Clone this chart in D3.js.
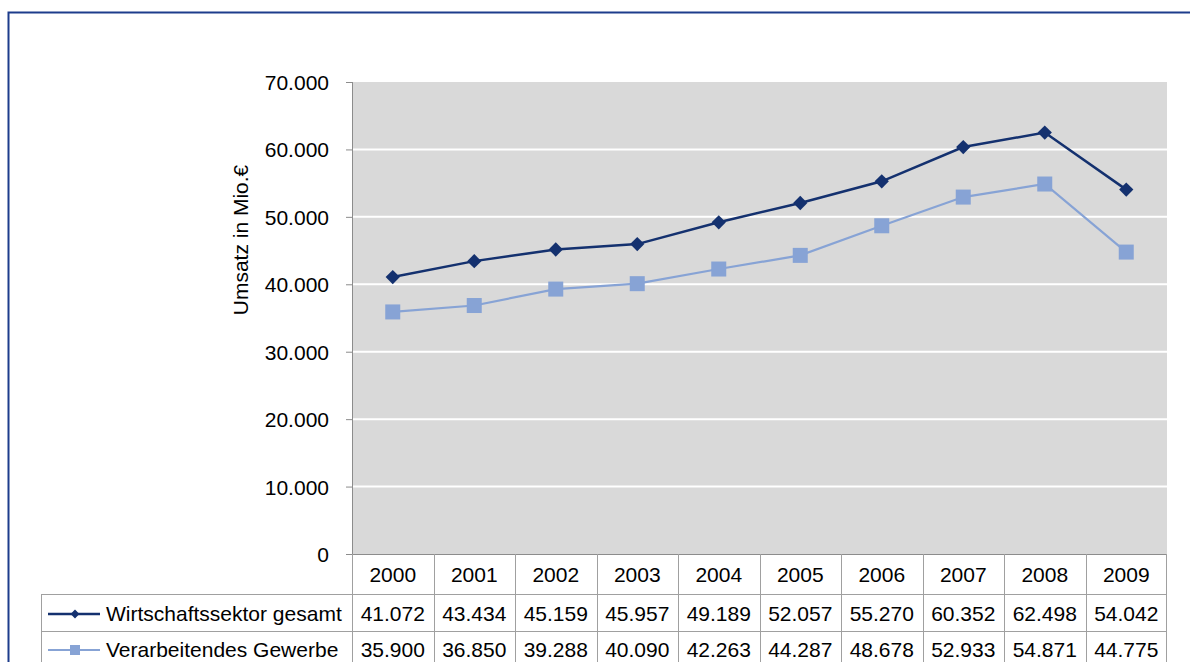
<!DOCTYPE html>
<meta charset="utf-8">
<script src="https://d3js.org/d3.v7.min.js"></script>
<style>
  body { margin: 0; background: #fff; }
  text { font-family: "Liberation Sans", Arial, sans-serif; fill: #000; }
</style>
<div id="chart"></div>
<script>

// data
var years = ["2000", "2001", "2002", "2003", "2004", "2005", "2006", "2007", "2008", "2009"];
var gesamt = [41072, 43434, 45159, 45957, 49189, 52057, 55270, 60352, 62498, 54042];
var gewerbe = [35900, 36850, 39288, 40090, 42263, 44287, 48678, 52933, 54871, 44775];
var seriesNames = ["Wirtschaftssektor gesamt", "Verarbeitendes Gewerbe"];
var yTicks = [0, 10000, 20000, 30000, 40000, 50000, 60000, 70000];

var W = 1190, H = 662;
var plot = {left: 352, right: 1167, top: 82, bottom: 554};
var colors = ["#14316f", "#87a3d5"];
var fs = "21px";

var de = d3.formatLocale({decimal: ",", thousands: ".", grouping: [3], currency: ["", "€"]});
var fmt = de.format(",d");
var fmtVal = function(v) { return d3.format(".3f")(v / 1000); };

var svg = d3.select("#chart").append("svg")
    .attr("width", W)
    .attr("height", H);

// frame
svg.append("path")
    .attr("d", "M8.5," + H + "V12.5H" + W)
    .attr("fill", "none")
    .attr("stroke", "#1d3c8c")
    .attr("stroke-width", 2);

var x = d3.scaleBand()
    .domain(years)
    .range([plot.left, plot.right])
    .paddingInner(0)
    .paddingOuter(0);

var y = d3.scaleLinear()
    .domain([0, 70000])
    .range([plot.bottom, plot.top]);

// plot background
svg.append("rect")
    .attr("x", plot.left)
    .attr("y", plot.top)
    .attr("width", plot.right - plot.left)
    .attr("height", plot.bottom - plot.top)
    .attr("fill", "#d9d9d9");

// gridlines
svg.append("g")
  .selectAll("line")
  .data(yTicks.filter(function(d) { return d > 0 && d < 70000; }))
  .enter().append("line")
    .attr("x1", plot.left)
    .attr("x2", plot.right)
    .attr("y1", function(d) { return y(d); })
    .attr("y2", function(d) { return y(d); })
    .attr("stroke", "#fff")
    .attr("stroke-width", 2);

// y axis
var yAxis = svg.append("g")
    .attr("transform", "translate(" + plot.left + ",0)")
    .call(d3.axisLeft(y).tickValues(yTicks).tickFormat(fmt).tickSize(6).tickPadding(17));
yAxis.select(".domain").attr("stroke", "#8c8c8c").attr("d", "M0.5," + plot.top + "V" + plot.bottom);
yAxis.selectAll(".tick line").attr("stroke", "#8c8c8c");
yAxis.selectAll(".tick text")
    .style("font-size", fs)
    .style("font-family", "'Liberation Sans', Arial, sans-serif")
    .attr("fill", "#000")
    .attr("dy", "0.36em");

// y label
svg.append("text")
    .attr("transform", "translate(248,240) rotate(-90)")
    .attr("text-anchor", "middle")
    .style("font-size", fs)
    .text("Umsatz in Mio.€");

// lines
var line = d3.line()
    .x(function(d, i) { return x(years[i]) + x.bandwidth() / 2; })
    .y(function(d) { return y(d); });

[gesamt, gewerbe].forEach(function(vals, s) {
  svg.append("path")
      .datum(vals)
      .attr("d", line)
      .attr("fill", "none")
      .attr("stroke", colors[s])
      .attr("stroke-width", s === 0 ? 2.5 : 2.2);
});

// markers
svg.append("g").selectAll("path")
  .data(gesamt)
  .enter().append("path")
    .attr("d", d3.symbol().type(d3.symbolDiamond2).size(130))
    .attr("transform", function(d, i) { return "translate(" + (x(years[i]) + x.bandwidth() / 2) + "," + y(d) + ")"; })
    .attr("fill", colors[0]);

svg.append("g").selectAll("rect")
  .data(gewerbe)
  .enter().append("rect")
    .attr("x", function(d, i) { return x(years[i]) + x.bandwidth() / 2 - 7.5; })
    .attr("y", function(d) { return y(d) - 7.5; })
    .attr("width", 15)
    .attr("height", 15)
    .attr("fill", colors[1]);

// data table
var tbl = {left: 41};
var grid = svg.append("g").attr("stroke", "#a0a0a0").attr("stroke-width", 1).attr("fill", "none");

// horizontal lines
grid.append("line").attr("x1", plot.left - 6).attr("x2", plot.right).attr("y1", 554.5).attr("y2", 554.5).attr("stroke", "#8c8c8c");
grid.append("line").attr("x1", tbl.left).attr("x2", plot.right).attr("y1", 594.5).attr("y2", 594.5);
grid.append("line").attr("x1", tbl.left).attr("x2", plot.right).attr("y1", 631.5).attr("y2", 631.5);
// vertical lines
grid.append("line").attr("x1", tbl.left + 0.5).attr("x2", tbl.left + 0.5).attr("y1", 594).attr("y2", H);
grid.selectAll(".vl")
  .data(years.concat(["end"]))
  .enter().append("line")
    .attr("x1", function(d) { return d === "end" ? plot.right - 0.5 : Math.round(x(d)) + 0.5; })
    .attr("x2", function(d) { return d === "end" ? plot.right - 0.5 : Math.round(x(d)) + 0.5; })
    .attr("y1", 554)
    .attr("y2", H);

// header
svg.append("g").selectAll("text")
  .data(years)
  .enter().append("text")
    .attr("x", function(d) { return x(d) + x.bandwidth() / 2; })
    .attr("y", 582)
    .attr("text-anchor", "middle")
    .style("font-size", fs)
    .text(function(d) { return d; });

// values
var baselines = [621, 657];
[gesamt, gewerbe].forEach(function(vals, s) {
  svg.append("g").selectAll("text")
    .data(vals)
    .enter().append("text")
      .attr("x", function(d, i) { return x(years[i]) + x.bandwidth() / 2; })
      .attr("y", baselines[s])
      .attr("text-anchor", "middle")
      .style("font-size", fs)
      .text(fmtVal);

  // legend key
  var ly = baselines[s] - 7;
  svg.append("line")
      .attr("x1", 48).attr("x2", 100)
      .attr("y1", ly).attr("y2", ly)
      .attr("stroke", colors[s])
      .attr("stroke-width", s === 0 ? 2.5 : 2.2);
  if (s === 0) {
    svg.append("path")
        .attr("d", d3.symbol().type(d3.symbolDiamond2).size(50))
        .attr("transform", "translate(75," + ly + ")")
        .attr("fill", colors[0]);
  } else {
    svg.append("rect")
        .attr("x", 70).attr("y", ly - 5)
        .attr("width", 10).attr("height", 10)
        .attr("fill", colors[1]);
  }
  svg.append("text")
      .attr("x", 106)
      .attr("y", baselines[s])
      .style("font-size", fs)
      .text(seriesNames[s]);
});

</script>
